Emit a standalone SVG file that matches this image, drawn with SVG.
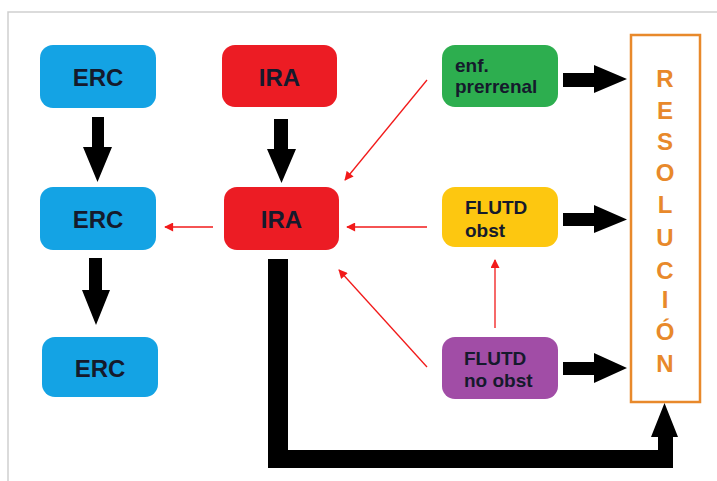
<svg xmlns="http://www.w3.org/2000/svg" width="717" height="481" viewBox="0 0 717 481">
<style>
.lbl{font-family:"Liberation Sans",Arial,sans-serif;font-weight:bold;fill:#151a2c}
.big{font-size:24px}
.sm{font-size:19px}
.res{font-family:"Liberation Sans",Arial,sans-serif;font-weight:bold;font-size:24px;fill:#E8892B;text-anchor:middle}
.thin{stroke:#F21A1A;stroke-width:1.3;fill:none;marker-end:url(#rh)}
.thick{fill:#000}
</style>
<defs>
<marker id="rh" viewBox="0 0 10 10" refX="9" refY="5" markerWidth="10" markerHeight="9" markerUnits="userSpaceOnUse" orient="auto">
<path d="M0,0 L10,5 L0,10 z" fill="#F21A1A"/>
</marker>
</defs>
<rect x="0" y="0" width="717" height="481" fill="#fff"/>
<path d="M8,481 L8,12 L717,12" fill="none" stroke="#cfcfcf" stroke-width="1.5"/>

<g id="erc1"><rect x="40" y="45" width="116" height="63" rx="13" fill="#14A3E4"/><text class="lbl big" x="98" y="86" text-anchor="middle">ERC</text></g>
<g id="ira1"><rect x="222" y="45" width="115" height="62" rx="13" fill="#EC1C24"/><text class="lbl big" x="279.5" y="86" text-anchor="middle">IRA</text></g>
<g id="erc2"><rect x="40" y="187" width="116" height="63" rx="13" fill="#14A3E4"/><text class="lbl big" x="98" y="228" text-anchor="middle">ERC</text></g>
<g id="ira2"><rect x="224" y="187" width="115" height="63" rx="13" fill="#EC1C24"/><text class="lbl big" x="281.5" y="228" text-anchor="middle">IRA</text></g>
<g id="erc3"><rect x="42" y="337" width="116" height="60" rx="13" fill="#14A3E4"/><text class="lbl big" x="100" y="377" text-anchor="middle">ERC</text></g>
<g id="prerrenal"><rect x="442" y="45" width="116" height="62" rx="13" fill="#2DAE4F"/><text class="lbl sm" x="455" y="72">enf.</text><text class="lbl sm" x="455" y="93">prerrenal</text></g>
<g id="flutd-obst"><rect x="442" y="187" width="116" height="60" rx="13" fill="#FDC710"/><text class="lbl sm" x="465" y="214">FLUTD</text><text class="lbl sm" x="465" y="237">obst</text></g>
<g id="flutd-noobst"><rect x="442" y="337" width="116" height="62" rx="13" fill="#A14DA6"/><text class="lbl sm" x="464" y="365">FLUTD</text><text class="lbl sm" x="464" y="387">no obst</text></g>
<g id="resolucion"><rect x="631" y="35" width="69" height="367" fill="#fff" stroke="#E8892B" stroke-width="2.5"/>
<text class="res" x="665" y="87">R</text>
<text class="res" x="665" y="119">E</text>
<text class="res" x="665" y="150">S</text>
<text class="res" x="665" y="181">O</text>
<text class="res" x="665" y="213">L</text>
<text class="res" x="665" y="246">U</text>
<text class="res" x="665" y="279">C</text>
<text class="res" x="665" y="308">I</text>
<text class="res" x="665" y="340">Ó</text>
<text class="res" x="665" y="372">N</text>
</g>

<g id="connectors">
<polygon class="thick" points="92,117 104,117 104,147 112,147 97.5,182 83,147 92,147"/>
<polygon class="thick" points="274,119 288,119 288,149 296,149 281.5,183 267,149 274,149"/>
<polygon class="thick" points="89,258 102,258 102,290 110,290 96,325 82,290 89,290"/>
<polygon class="thick" points="563,73 594,73 594,65 627,79 594,93 594,87 563,87"/>
<polygon class="thick" points="563,213 594,213 594,205 627,219.5 594,233 594,226 563,226"/>
<polygon class="thick" points="563,362 594,362 594,353 627,368 594,383 594,375 563,375"/>
<polygon class="thick" points="268,259 288,259 288,450 658,450 658,437 651,437 664.5,403 678,437 673,437 673,468 268,468"/>
<line class="thin" x1="427" y1="80" x2="345" y2="180"/>
<line class="thin" x1="427" y1="227" x2="347" y2="227"/>
<line class="thin" x1="213" y1="227" x2="165" y2="227"/>
<line class="thin" x1="427" y1="367" x2="339" y2="270"/>
<line class="thin" x1="495" y1="328" x2="495" y2="260"/>
</g>
</svg>
